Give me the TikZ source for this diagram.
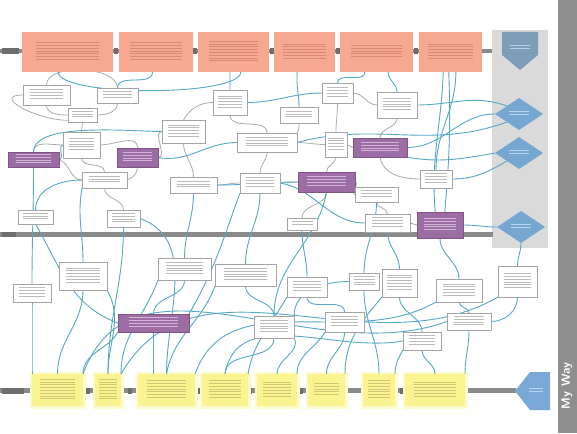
\documentclass[tikz,border=0pt]{standalone}
\usepackage{tikz}
\usetikzlibrary{shapes.geometric}

\definecolor{salfill}{HTML}{F6A890}
\definecolor{saltext}{HTML}{D98A74}
\definecolor{yelfill}{HTML}{FAF390}
\definecolor{yeltext}{HTML}{CFC676}
\definecolor{purfill}{HTML}{9C6CA4}
\definecolor{purtext}{HTML}{D2B6D6}
\definecolor{boxgray}{HTML}{A4A4A4}
\definecolor{txtgray}{HTML}{BBBBBB}
\definecolor{linkblue}{HTML}{55A8C6}
\definecolor{linkgray}{HTML}{A8ACAE}
\definecolor{diafill}{HTML}{76A7D1}
\definecolor{diatext}{HTML}{B9D3EA}
\definecolor{panelgray}{HTML}{DADADA}
\definecolor{bargray}{HTML}{8E8E8E}
\definecolor{lanegray}{HTML}{8A8A8A}
\definecolor{lanedark}{HTML}{6E6E6E}
\definecolor{pentatop}{HTML}{7F9DB8}
\definecolor{pentabot}{HTML}{79A8D6}

\pgfdeclarelayer{back}
\pgfdeclarelayer{links}
\pgfsetlayers{back,links,main}

% stack of #1 thin rules of width #2pt, standing in for the small print of a card
\newcommand\txtlines[2]{\vbox{\offinterlineskip
  \foreach \k in {1,...,#1}{\hbox{\rule{#2pt}{0.8pt}}\vskip2pt}}}

% card: style, name, x1, y1, x2, y2, number of print lines
\newcommand\boxat[7]{%
  \pgfmathsetmacro\bxw{#5-#3}%
  \pgfmathsetmacro\bxh{#6-#4}%
  \pgfmathsetmacro\bxx{(#3+#5)/2}%
  \pgfmathsetmacro\bxy{(#4+#6)/2}%
  \pgfmathsetmacro\bxl{0.7*(#5-#3)}%
  \node[#1,minimum width=\bxw pt,minimum height=\bxh pt] (#2) at (\bxx,\bxy) {\txtlines{#7}{\bxl}};}

\tikzset{
  card/.style={rectangle, inner sep=0pt, outer sep=0pt},
  sal/.style={card, fill=salfill, text=saltext},
  yel/.style={card, fill=yelfill, text=yeltext},
  pur/.style={card, fill=purfill, draw=purfill!80!black, line width=0.5pt, text=purtext},
  wb/.style={card, fill=white, draw=boxgray, line width=0.7pt, text=txtgray},
  dia/.style={diamond, fill=diafill, inner sep=0pt, outer sep=0pt,
    minimum width=48pt, minimum height=32pt, text=diatext},
  cb/.style={draw=linkblue, line width=0.9pt},
  cg/.style={draw=linkgray, line width=0.8pt},
  lane/.style={draw=lanegray},
  tag/.style={fill=lanedark},
}

\begin{document}
\begin{tikzpicture}[x=1pt,y=-1pt]
\useasboundingbox (0,0) rectangle (577,433);

\begin{pgfonlayer}{back}
\fill[white] (0,0) rectangle (577,433);
% side panel and title bar
\fill[panelgray] (492,30) rectangle (548,248);
\fill[bargray] (558,0) rectangle (577,433);
% swim lanes
\draw[lane, line width=4pt] (0,51) -- (492,51);
\draw[lane, line width=4.5pt] (0,234.5) -- (493,234.5);
\draw[lane, line width=5pt] (0,390.5) -- (516,390.5);
\fill[tag] (2,48) rectangle (19,54);
\fill[tag] (2,232) rectangle (16,237);
\fill[tag] (2,387.5) rectangle (24,393.5);
\foreach \gx in {115.5,195,272,337.5,415.5}{\fill[tag] (\gx-2,48) rectangle (\gx+2,54);}
\foreach \gx in {88,130,198,250,301,402}{\fill[tag] (\gx-2,387.5) rectangle (\gx+2,393.5);}
% soft halo round the bottom stage cards
\foreach \hx/\hy/\hX/\hY in {32/374/83/406,95/374/121/406,138/374/195/406,202/374/248/406,
    257/374/297/406,308/374/345/406,363/374/395/406,405/374/465/406}
  {\fill[yelfill!45] (\hx-2.5,\hy-2.5) rectangle (\hX+2.5,\hY+2.5);}
\end{pgfonlayer}

\node[rotate=90, text=white, font=\sffamily\bfseries\fontsize{12}{12}\selectfont] (title) at (567,386) {My Way};

% end markers
\fill[pentatop] (502,32) -- (538,32) -- (538,55) -- (520,70) -- (502,55) -- cycle;
\node[text=diatext] (endtop) at (520,48) {\txtlines{2}{20}};
\fill[pentabot] (515,391) -- (530,372) -- (550,372) -- (550,410) -- (530,410) -- cycle;
\node[text=diatext] (endbot) at (536,391) {\txtlines{2}{14}};

% decision points
\node[dia] (d1) at (519,114) {\txtlines{2}{20}};
\node[dia] (d2) at (519,153) {\txtlines{2}{20}};
\node[dia] (d3) at (521,227) {\txtlines{2}{20}};

% top stage cards
\boxat{sal}{t1}{22}{32}{113}{72}{7}
\boxat{sal}{t2}{119}{32}{193}{72}{7}
\boxat{sal}{t3}{198}{32}{269}{72}{8}
\boxat{sal}{t4}{274}{32}{335}{72}{6}
\boxat{sal}{t5}{340}{32}{413}{72}{5}
\boxat{sal}{t6}{419}{32}{482}{72}{6}

% bottom stage cards
\boxat{yel}{y1}{32}{374}{83}{406}{8}
\boxat{yel}{y2}{95}{374}{121}{406}{8}
\boxat{yel}{y3}{138}{374}{195}{406}{7}
\boxat{yel}{y4}{202}{374}{248}{406}{7}
\boxat{yel}{y5}{257}{374}{297}{406}{6}
\boxat{yel}{y6}{308}{374}{345}{406}{5}
\boxat{yel}{y7}{363}{374}{395}{406}{7}
\boxat{yel}{y8}{405}{374}{465}{406}{6}

% highlighted cards
\boxat{pur}{p1}{8}{152}{59}{167}{4}
\boxat{pur}{p2}{117}{148}{158}{167}{4}
\boxat{pur}{p3}{298}{172}{355}{192}{4}
\boxat{pur}{p4}{353}{138}{407}{157}{4}
\boxat{pur}{p5}{417}{212}{463}{238}{5}
\boxat{pur}{p6}{118}{314}{189}{332}{4}

% upper band cards
\boxat{wb}{a1}{23}{85}{70}{105}{4}
\boxat{wb}{a2}{97}{88}{138}{103}{3}
\boxat{wb}{a3}{68}{108}{97}{122}{3}
\boxat{wb}{a4}{63}{132}{100}{158}{5}
\boxat{wb}{a5}{82}{172}{127}{188}{3}
\boxat{wb}{a6}{162}{120}{205}{143}{5}
\boxat{wb}{a7}{170}{177}{217}{193}{3}
\boxat{wb}{a8}{18}{210}{53}{224}{3}
\boxat{wb}{a9}{107}{210}{140}{227}{4}
\boxat{wb}{a10}{213}{90}{247}{115}{5}
\boxat{wb}{a11}{280}{107}{318}{123}{3}
\boxat{wb}{a12}{322}{83}{353}{103}{4}
\boxat{wb}{a13}{377}{92}{417}{118}{5}
\boxat{wb}{a14}{237}{133}{297}{152}{4}
\boxat{wb}{a15}{325}{132}{347}{157}{5}
\boxat{wb}{a16}{240}{173}{280}{193}{4}
\boxat{wb}{a17}{355}{187}{398}{202}{3}
\boxat{wb}{a18}{365}{214}{410}{232}{4}
\boxat{wb}{a19}{287}{218}{317}{230}{2}
\boxat{wb}{a20}{420}{170}{452}{188}{4}

% lower band cards
\boxat{wb}{b1}{13}{284}{51}{302}{4}
\boxat{wb}{b2}{59}{262}{107}{290}{6}
\boxat{wb}{b3}{158}{258}{211}{280}{5}
\boxat{wb}{b4}{215}{264}{276}{286}{5}
\boxat{wb}{b5}{287}{277}{327}{297}{4}
\boxat{wb}{b6}{349}{273}{379}{290}{4}
\boxat{wb}{b7}{382}{269}{417}{297}{6}
\boxat{wb}{b8}{436}{279}{482}{302}{5}
\boxat{wb}{b9}{498}{266}{537}{297}{6}
\boxat{wb}{b10}{254}{316}{294}{338}{5}
\boxat{wb}{b11}{325}{312}{364}{332}{4}
\boxat{wb}{b12}{403}{332}{441}{350}{4}
\boxat{wb}{b13}{447}{313}{491}{330}{4}

\begin{pgfonlayer}{links}
% grey links inside the upper band
\draw[cg] (a1.south) to[out=-90,in=180] (a3.west);
\draw[cg] (a1.west) to[out=180,in=180,looseness=1.6] (a3.200);
\draw[cg] (a1.north) to[out=90,in=90,looseness=0.8] (a2.north);
\draw[cg] (a2.south) to[out=-90,in=0] (a3.east);
\draw[cg] (a3.south) -- (a4.north);
\draw[cg] (a4.west) to[out=180,in=90] (p1.north);
\draw[cg] (a4.east) to[out=0,in=90] (p2.north);
\draw[cg] (a4.south) to[out=-90,in=90] (a5.north);
\draw[cg] (p1.east) to[out=-20,in=180] (a5.west);
\draw[cg] (p2.south) to[out=-90,in=20] (a5.east);
\draw[cg] (a6.west) to[out=180,in=0] (p2.east);
\draw[cg] (a6.south) to[out=-90,in=90] (a7.north);
\draw[cg] (a10.south) to[out=-90,in=90] (a14.north);
\draw[cg] (a10.west) to[out=180,in=60] (a6.north);
\draw[cg] (a14.south) to[out=-90,in=90] (a16.north);
\draw[cg] (a14.east) to[out=0,in=180] (a15.west);
\draw[cg] (a11.south) to[out=-90,in=60] (a14.north east);
\draw[cg] (a12.east) to[out=0,in=180] (a13.west);
\draw[cg] (a12.south) to[out=-90,in=90] (a15.north);
\draw[cg] (a15.east) to[out=0,in=180] (p4.west);
\draw[cg] (a15.south) to[out=-90,in=90] (p3.north);
\draw[cg] (p3.west) to[out=180,in=0] (a16.east);
\draw[cg] (p3.south) to[out=-90,in=90] (a19.north);
\draw[cg] (p3.east) to[out=0,in=180] (a17.west);
\draw[cg] (a13.south) to[out=-90,in=90] (p4.north);
\draw[cg] (p4.south) to[out=-80,in=180] (a20.west);
\draw[cg] (a17.south) to[out=-90,in=90] (a18.north);
\draw[cg] (a18.east) to[out=0,in=180] (p5.west);
\draw[cg] (a16.west) to[out=180,in=0] (a7.east);
\draw[cg] (a5.south) to[out=-90,in=90] (a9.north);

% blue links in the upper band
\draw[cb] (t1.-115) to[out=-90,in=-90,looseness=0.35] (t3.-70);
\draw[cb] (t2.-100) to[out=-90,in=90] (a2.north);
\draw[cb] (t3.-100) to[out=-90,in=90] (a10.north);
\draw[cb] (t4.-110) to[out=-95,in=90] (a11.north);
\draw[cb] (t5.-120) to[out=-90,in=90] (a12.north);
\draw[cb] (t5.-60) to[out=-90,in=90] (a13.north);
\draw[cb] (t6.-110) to[out=-92,in=95] (p5.110);
\draw[cb] (t6.-95) to[out=-88,in=85] (p5.70);
\draw[cb] (t6.-75) to[out=-90,in=90] (a20.north);
\draw[cb] (p4.east) to[out=0,in=180] (d1.west);
\draw[cb] (p4.-20) to[out=-10,in=190] (d2.west);
\draw[cb] (a20.east) to[out=0,in=210] (d2.south west);
\draw[cb] (p5.east) to[out=0,in=180] (d3.west);
\draw[cb] (a14.east) to[out=15,in=200] (d1.south west);
\draw[cb] (a13.east) to[out=0,in=160] (d1.north west);
\draw[cb] (a4.west) to[out=190,in=0] (p1.east);
\draw[cb] (p1.north) to[out=90,in=180,looseness=0.6] (a6.west);
\draw[cb] (a7.east) to[out=0,in=180] (p3.west);
\draw[cb] (a16.east) to[out=-10,in=180] (a18.west);
\draw[cb] (p2.east) to[out=-10,in=180] (a14.west);
\draw[cb] (a10.east) to[out=0,in=180] (a12.west);
\draw[cb] (a8.north) to[out=90,in=180] (a5.west);

% links crossing the middle lane
\draw[cb] (p1.south) to[out=-90,in=90] (b1.north);
\draw[cb] (a9.south) to[out=-90,in=90] (y2.north);
\draw[cb] (a5.south west) to[out=-100,in=90] (b2.north);
\draw[cb] (a8.south) to[out=-60,in=160] (p6.west);
\draw[cb] (a7.south) to[out=-90,in=90] (b3.north);
\draw[cb] (a9.east) to[out=-20,in=90] (y3.north);
\draw[cb] (a16.south) to[out=-90,in=90] (b4.north);
\draw[cb] (a19.south) to[out=-90,in=90] (b5.north);
\draw[cb] (a17.south) to[out=-90,in=90] (b6.north);
\draw[cb] (a18.south) to[out=-90,in=90] (b7.north);
\draw[cb] (p5.south) to[out=-90,in=90] (b8.north);
\draw[cb] (d3.south) to[out=-90,in=90] (b9.north);
\draw[cb] (p3.south) to[out=-100,in=90] (b10.north);
\draw[cb] (a16.south west) to[out=-110,in=60] (p6.north east);

% blue links in the lower band
\draw[cb] (b1.south) to[out=-90,in=90] (y1.north west);
\draw[cb] (b2.south) to[out=-90,in=90] (y1.north);
\draw[cb] (b2.south east) to[out=-60,in=90] (y2.north);
\draw[cb] (b3.south) to[out=-90,in=90] (p6.north);
\draw[cb] (b3.south west) to[out=-110,in=90] (y2.north east);
\draw[cb] (p6.south) -- (p6.south |- y3.north);
\draw[cb] (p6.south west) to[out=-120,in=90] (y1.north east);
\draw[cb] (b4.south) to[out=-90,in=90] (b10.north);
\draw[cb] (b4.south west) to[out=-110,in=80] (y3.north);
\draw[cb] (b10.south) to[out=-90,in=90] (y4.north);
\draw[cb] (b10.south east) to[out=-60,in=90] (y5.north);
\draw[cb] (b5.south) to[out=-90,in=90] (b11.north);
\draw[cb] (b5.south west) to[out=-120,in=80] (y4.north east);
\draw[cb] (b11.south) to[out=-90,in=90] (y6.north);
\draw[cb] (b11.south west) to[out=-120,in=90] (y5.north east);
\draw[cb] (b6.south) to[out=-90,in=90] (y7.north);
\draw[cb] (b6.west) to[out=180,in=90] (b10.north east);
\draw[cb] (b7.south) to[out=-90,in=90] (b12.north);
\draw[cb] (b12.south) to[out=-90,in=90] (y8.north);
\draw[cb] (b12.south west) to[out=-120,in=90] (y7.north east);
\draw[cb] (b8.south) to[out=-90,in=90] (b13.north);
\draw[cb] (b13.south) to[out=-90,in=90] (y8.north east);
\draw[cb] (b9.south) to[out=-90,in=0] (b13.east);
\draw[cb] (b13.west) to[out=200,in=70] (y1.north east);
\draw[cb] (b9.south west) to[out=210,in=60] (y2.north east);
\draw[cb] (b8.south west) to[out=210,in=70] (y3.north east);
\draw[cb] (b12.west) to[out=190,in=80] (y4.north);
\draw[cb] (b7.south west) to[out=-130,in=90] (y6.north east);
\end{pgfonlayer}
\end{tikzpicture}
\end{document}
